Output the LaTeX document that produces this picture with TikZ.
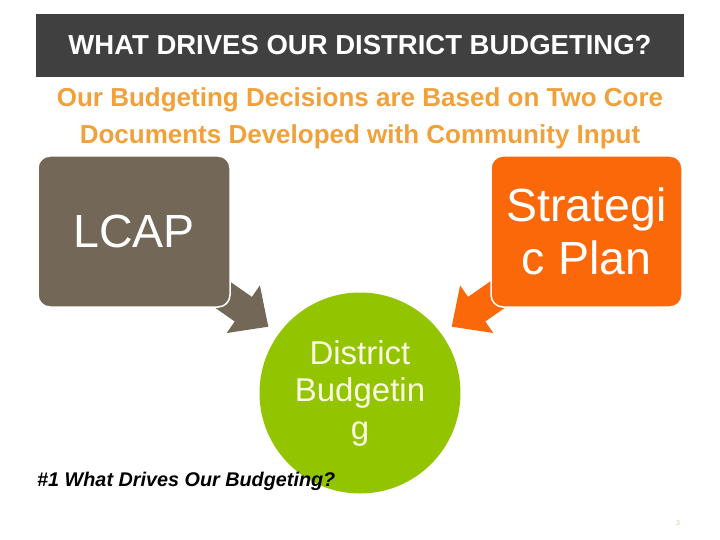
\documentclass[tikz,border=0pt]{standalone}
\usepackage{fontspec}
\setmainfont{Liberation Sans}
\definecolor{barcol}{RGB}{64,64,64}
\definecolor{subcol}{RGB}{242,161,58}
\definecolor{lcapcol}{RGB}{115,104,88}
\definecolor{stratcol}{RGB}{250,104,10}
\definecolor{greencol}{RGB}{146,196,0}
\definecolor{creamcol}{RGB}{250,250,225}
\definecolor{pagecol}{RGB}{200,215,150}
\tikzset{
  docbox/.style={rectangle, rounded corners=12pt, draw=white, line width=1.5pt,
    minimum width=192pt, minimum height=151pt, inner sep=0pt, text=white,
    align=center, font=\fontsize{46.5}{53}\selectfont},
}
\begin{document}
\begin{tikzpicture}[x=1pt,y=-1pt]
\useasboundingbox (0,0) rectangle (720,540);
\fill[white] (0,0) rectangle (720,540);
% title bar
\node[fill=barcol, minimum width=648pt, minimum height=63pt, inner sep=0pt,
  text=white, font=\fontsize{27.5}{33}\selectfont\bfseries] (title) at (360,45.5)
  {WHAT DRIVES OUR DISTRICT BUDGETING?};
% subtitle
\node[anchor=north, inner sep=0pt, align=center, text=subcol,
  font=\fontsize{26}{37}\selectfont\bfseries] (subtitle) at (360,87.5)
  {Our Budgeting Decisions are Based on Two Core\\Documents Developed with Community Input};
% arrows (under boxes)
\fill[lcapcol] (215.0,271.1) -- (251.9,296.9) -- (259.9,285.4) -- (268.3,326.7)
  -- (226.7,333.0) -- (234.7,321.5) -- (197.8,295.7) -- cycle;
\fill[stratcol] (505.0,271.1) -- (468.1,296.9) -- (460.1,285.4) -- (451.7,326.7)
  -- (493.3,333.0) -- (485.3,321.5) -- (522.2,295.7) -- cycle;
% boxes
\node[docbox, fill=lcapcol] (lcap) at (134,231.5) {LCAP};
\node[docbox, fill=stratcol, minimum width=191pt] (strat) at (586.5,231.5) {Strategi\\c Plan};
% circle
\node[circle, fill=greencol, minimum size=201pt, inner sep=0pt, text=creamcol,
  align=center, font=\fontsize{33}{37.5}\selectfont] (budget) at (360,393)
  {District\\Budgetin\\g};
% footer
\node[anchor=base west, inner sep=0pt, font=\fontsize{19.8}{24}\selectfont\bfseries\itshape]
  (footer) at (37,486) {\#1 What Drives Our Budgeting?};
\node[anchor=base, inner sep=0pt, text=pagecol, font=\fontsize{7}{8}\selectfont]
  (page) at (678,525) {3};
\end{tikzpicture}
\end{document}
